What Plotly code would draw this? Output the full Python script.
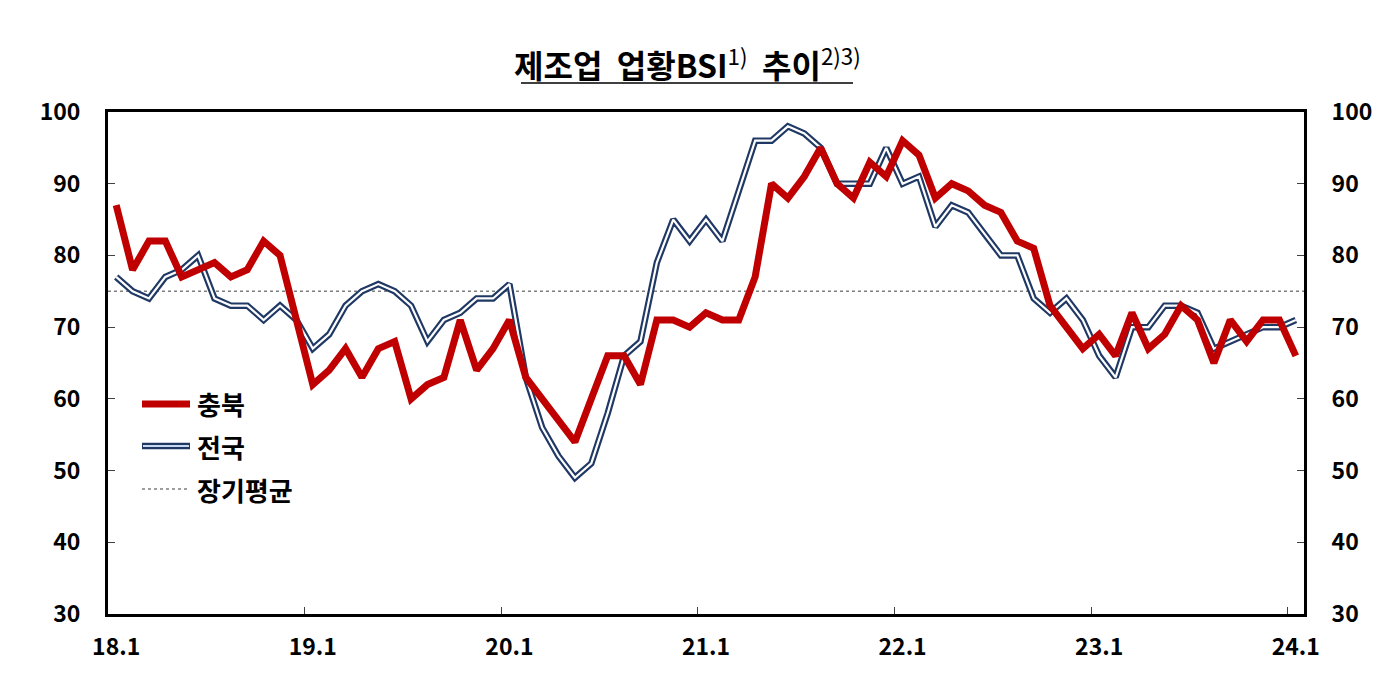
import plotly.graph_objects as go

# ---- data ----
x_labels = ["18.1", "19.1", "20.1", "21.1", "22.1", "23.1", "24.1"]
chungbuk = [87, 78, 82, 82, 77, 78, 79, 77, 78, 82, 80, 71,
            62, 64, 67, 63, 67, 68, 60, 62, 63, 71, 64, 67,
            71, 63, 60, 57, 54, 60, 66, 66, 62, 71, 71, 70,
            72, 71, 71, 77, 90, 88, 91, 95, 90, 88, 93, 91,
            96, 94, 88, 90, 89, 87, 86, 82, 81, 73, 70, 67,
            69, 66, 72, 67, 69, 73, 71, 65, 71, 68, 71, 71,
            66]
national = [77, 75, 74, 77, 78, 80, 74, 73, 73, 71, 73, 71,
            67, 69, 73, 75, 76, 75, 73, 68, 71, 72, 74, 74,
            76, 63, 56, 52, 49, 51, 58, 66, 68, 79, 85, 82,
            85, 82, 89, 96, 96, 98, 97, 95, 90, 90, 90, 95,
            90, 91, 84, 87, 86, 83, 80, 80, 74, 72, 74, 71,
            66, 63, 70, 70, 73, 73, 72, 67, 68, 69, 70, 70,
            71]
long_avg = 75

n = len(chungbuk)
xs = list(range(n))
tick_pos = list(range(0, n, 12))
boundary_ticks = [p - 0.5 for p in tick_pos[1:]]

FONT = "Noto Sans CJK KR"
RED = "#c00000"
NAVY = "#1f3864"

# page offset (body margin) compensation
OX, OY = 7, 7
L, T, W, H = 107 - OX, 111 - OY, 1196, 502

fig = go.Figure()

# long-term average (dotted)
fig.add_trace(go.Scatter(x=[-0.5, n - 0.5], y=[long_avg, long_avg], mode="lines",
                         line=dict(color="#7f7f7f", width=1.6, dash="dot"),
                         showlegend=False, hoverinfo="skip"))
# national (double line)
fig.add_trace(go.Scatter(x=xs, y=national, mode="lines",
                         line=dict(color=NAVY, width=6.5), showlegend=False))
fig.add_trace(go.Scatter(x=xs, y=national, mode="lines",
                         line=dict(color="#ffffff", width=2.2), showlegend=False,
                         hoverinfo="skip"))
# chungbuk
fig.add_trace(go.Scatter(x=xs, y=chungbuk, mode="lines",
                         line=dict(color=RED, width=7), showlegend=False))

# invisible trace to activate secondary axes
fig.add_trace(go.Scatter(x=[0], y=[30], xaxis="x2", yaxis="y2", mode="markers",
                         marker=dict(opacity=0), showlegend=False, hoverinfo="skip"))

tick_font = dict(family=FONT, size=23, color="#000000", weight="bold")

fig.update_layout(
    width=1400, height=686,
    margin=dict(l=L, r=1400 - L - W, t=T, b=686 - T - H),
    paper_bgcolor="white", plot_bgcolor="white",
    showlegend=False,
    xaxis=dict(range=[-0.5, n - 0.5], tickvals=tick_pos, ticktext=x_labels,
               ticks="", showgrid=False, zeroline=False,
               showline=True, linecolor="black", linewidth=3, mirror=True,
               tickfont=tick_font, ticklabelstandoff=10),
    xaxis2=dict(range=[-0.5, n - 0.5], overlaying="x", side="bottom",
                tickvals=boundary_ticks, ticks="inside", ticklen=7, tickwidth=1,
                tickcolor="#404040", showticklabels=False, showgrid=False,
                zeroline=False, showline=False),
    yaxis=dict(range=[30, 100], dtick=10, tick0=30, ticks="inside", ticklen=7,
               tickwidth=1, tickcolor="#404040", showgrid=False, zeroline=False,
               showline=True, linecolor="black", linewidth=3,
               tickfont=tick_font, ticklabelstandoff=20),
    yaxis2=dict(range=[30, 100], dtick=10, tick0=30, overlaying="y", side="right",
                ticks="inside", ticklen=7, tickwidth=1, tickcolor="#404040",
                showgrid=False, zeroline=False, showline=True, linecolor="black",
                linewidth=3, tickfont=tick_font, ticklabelstandoff=20),
)


def px_x(p):
    return (p - 107) / W


def px_y(p):
    return (111 + H - p) / H


# title
fig.add_annotation(xref="paper", yref="paper", x=px_x(686), y=px_y(62),
                   text="<b>제조업  업황BSI</b><sup>1)</sup><b>  추이</b><sup>2)3)</sup>",
                   showarrow=False, xanchor="center", yanchor="middle",
                   font=dict(family=FONT, size=32, color="#000000"))
fig.add_shape(type="line", xref="paper", yref="paper", x0=px_x(520), x1=px_x(852),
              y0=px_y(82), y1=px_y(82), line=dict(color="#404040", width=2))

# manual legend
legend_items = [
    ("충북", 403),
    ("전국", 445),
    ("장기평균", 488),
]
fig.add_shape(type="line", xref="paper", yref="paper", x0=px_x(141), x1=px_x(189),
              y0=px_y(403), y1=px_y(403), line=dict(color=RED, width=7))
fig.add_shape(type="line", xref="paper", yref="paper", x0=px_x(141), x1=px_x(189),
              y0=px_y(445), y1=px_y(445), line=dict(color=NAVY, width=6.5))
fig.add_shape(type="line", xref="paper", yref="paper", x0=px_x(142), x1=px_x(188),
              y0=px_y(445), y1=px_y(445), line=dict(color="#c6d9f1", width=2.2))
fig.add_shape(type="line", xref="paper", yref="paper", x0=px_x(141), x1=px_x(187),
              y0=px_y(488), y1=px_y(488), line=dict(color="#7f7f7f", width=1.6, dash="dot"))
for label, py in legend_items:
    fig.add_annotation(xref="paper", yref="paper", x=px_x(194), y=px_y(py),
                       text=label, showarrow=False, xanchor="left", yanchor="middle",
                       font=dict(family=FONT, size=26, color="#000000", weight="bold"))

fig.write_html("out.html")
